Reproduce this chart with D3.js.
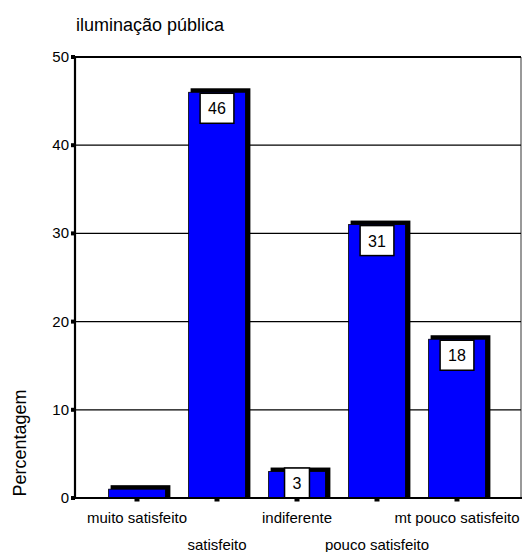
<!DOCTYPE html>
<html>
<head>
<meta charset="utf-8">
<script src="https://cdn.jsdelivr.net/npm/d3@7"></script>
<style>
  html, body { margin: 0; padding: 0; background: #fff; }
  svg { display: block; font-family: "Liberation Sans", Arial, sans-serif; }
</style>
</head>
<body>
<svg id="chart" width="523" height="552"></svg>
<script>
// Satisfaction with public lighting (percent of respondents)
const categories = ["muito satisfeito", "satisfeito", "indiferente", "pouco satisfeito", "mt pouco satisfeito"];
const values = [1, 46, 3, 31, 18];
const labelled = [false, true, true, true, true];
const yTicks = [0, 10, 20, 30, 40, 50];

const svg = d3.select("#chart");
const frame = { left: 75, right: 521, top: 57, bottom: 498 };

const x = d3.scaleBand()
  .domain(categories)
  .range([97, 497])
  .paddingInner(0.29)
  .paddingOuter(0.145);

const y = d3.scaleLinear()
  .domain([0, 50])
  .range([frame.bottom, frame.top]);

// title
svg.append("text")
  .attr("x", 76).attr("y", 31)
  .attr("font-size", 18)
  .text("iluminação pública");

// right border (thin grey)
svg.append("line")
  .attr("x1", frame.right).attr("x2", frame.right)
  .attr("y1", frame.top).attr("y2", frame.bottom)
  .attr("stroke", "#555").attr("stroke-width", 1.2);

// horizontal gridlines
svg.append("g")
  .selectAll("line")
  .data(yTicks.filter(d => d > 0 && d < 50))
  .join("line")
  .attr("x1", frame.left).attr("x2", frame.right)
  .attr("y1", d => y(d)).attr("y2", d => y(d))
  .attr("stroke", "#000").attr("stroke-width", 1.2);

// top border
svg.append("line")
  .attr("x1", frame.left).attr("x2", frame.right)
  .attr("y1", y(50)).attr("y2", y(50))
  .attr("stroke", "#000").attr("stroke-width", 2.2);

// bars with a black offset shadow
const bars = svg.append("g");
const dx = 5, dy = 4;
bars.selectAll("rect.shadow")
  .data(categories)
  .join("rect")
  .attr("class", "shadow")
  .attr("x", d => x(d) + 2)
  .attr("y", (d, i) => y(values[i]) - dy)
  .attr("width", x.bandwidth() + dx - 2)
  .attr("height", (d, i) => frame.bottom - y(values[i]) + dy)
  .attr("fill", "#000");

bars.selectAll("rect.bar")
  .data(categories)
  .join("rect")
  .attr("class", "bar")
  .attr("x", d => x(d))
  .attr("y", (d, i) => y(values[i]))
  .attr("width", x.bandwidth())
  .attr("height", (d, i) => frame.bottom - y(values[i]))
  .attr("fill", "#0000ff")
  .attr("stroke", "#000")
  .attr("stroke-width", 0.8);

// value boxes
const boxes = svg.append("g");
categories.forEach((c, i) => {
  if (!labelled[i]) return;
  const cx = x(c) + x.bandwidth() / 2;
  const top = Math.min(y(values[i]) + 1, frame.bottom - 30);
  const t = boxes.append("text")
    .attr("x", cx).attr("y", top + 21)
    .attr("text-anchor", "middle")
    .attr("font-size", 16)
    .text(values[i]);
  const w = t.node().getComputedTextLength() + 16;
  boxes.insert("rect", "text")
    .attr("x", cx - w / 2).attr("y", top)
    .attr("width", w).attr("height", 30)
    .attr("fill", "#fff")
    .attr("stroke", "#000").attr("stroke-width", 1.5);
});

// y axis
const yAxis = svg.append("g");
yAxis.append("line")
  .attr("x1", frame.left).attr("x2", frame.left)
  .attr("y1", frame.top).attr("y2", frame.bottom + 1)
  .attr("stroke", "#000").attr("stroke-width", 2.2);
yAxis.selectAll("rect")
  .data(yTicks)
  .join("rect")
  .attr("x", frame.left - 4).attr("y", d => y(d) - 2)
  .attr("width", 4).attr("height", 4)
  .attr("fill", "#000");
yAxis.selectAll("text")
  .data(yTicks)
  .join("text")
  .attr("x", frame.left - 6).attr("y", d => y(d) + 5)
  .attr("text-anchor", "end")
  .attr("font-size", 15)
  .text(d => d);

svg.append("text")
  .attr("transform", `translate(26, ${443}) rotate(-90)`)
  .attr("text-anchor", "middle")
  .attr("font-size", 18)
  .text("Percentagem");

// x axis
const xAxis = svg.append("g");
xAxis.append("line")
  .attr("x1", frame.left - 2).attr("x2", frame.right + 1)
  .attr("y1", frame.bottom).attr("y2", frame.bottom)
  .attr("stroke", "#000").attr("stroke-width", 2.2);
xAxis.selectAll("rect")
  .data(categories)
  .join("rect")
  .attr("x", d => x(d) + x.bandwidth() / 2 - 2.5)
  .attr("y", frame.bottom)
  .attr("width", 5).attr("height", 3.5)
  .attr("fill", "#000");
xAxis.selectAll("text")
  .data(categories)
  .join("text")
  .attr("x", d => x(d) + x.bandwidth() / 2)
  .attr("y", (d, i) => i % 2 === 0 ? 523 : 550)
  .attr("text-anchor", "middle")
  .attr("font-size", 15)
  .text(d => d);
</script>
</body>
</html>
